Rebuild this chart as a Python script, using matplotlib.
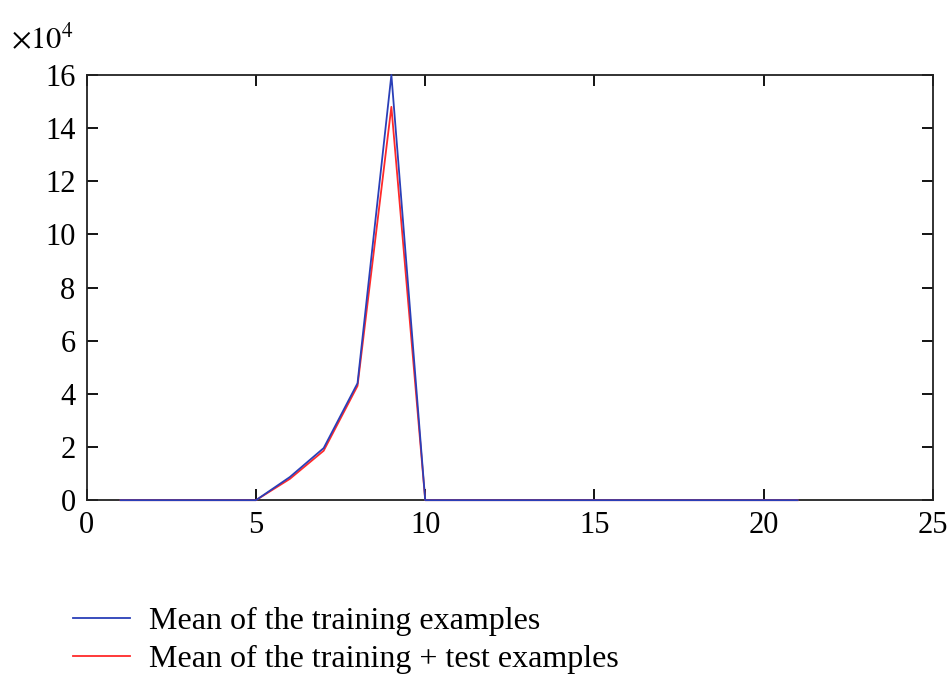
import numpy as np
import matplotlib.pyplot as plt
from matplotlib.ticker import FuncFormatter

plt.rcParams['font.family'] = ['Liberation Serif', 'DejaVu Serif']
plt.rcParams['mathtext.fontset'] = 'stix'

# class index and mean values per class
x = np.arange(1, 22)
mean_train = [0, 0, 0, 0, 0, 8700, 19600, 44000, 160000, 0,
              0, 0, 0, 0, 0, 0, 0, 0, 0, 0, 0]
mean_train_test = [0, 0, 0, 0, 0, 8000, 18600, 43000, 148000, 0,
                   0, 0, 0, 0, 0, 0, 0, 0, 0, 0, 0]
scale = 1e4

fig = plt.figure(figsize=(9.53, 6.75), dpi=100)
ax = fig.add_axes([0.091, 0.259, 0.888, 0.63])

ax.plot(x, mean_train_test, color='#ff2a2a', lw=1.3, zorder=3, clip_on=False,
        label='Mean of the training + test examples')
ax.plot(x, mean_train, color='#2a3fb8', lw=1.3, zorder=3, clip_on=False,
        label='Mean of the training examples')

ax.set_xlim(0, 25)
ax.set_ylim(0, 160000)
ax.set_xticks(range(0, 26, 5))
ax.set_yticks(range(0, 160001, 20000))
ax.yaxis.set_major_formatter(FuncFormatter(lambda v, p: f'{v / scale:.0f}'))
ax.text(-0.09, 1.045, r'$\times10^4$', transform=ax.transAxes, fontsize=22,
        ha='left', va='bottom')

ax.tick_params(direction='in', top=True, right=True, labelsize=22, length=8, width=1.3, pad=8)
for s in ax.spines.values():
    s.set_linewidth(1.3)
    s.set_color('#222222')

handles, labels = ax.get_legend_handles_labels()
fig.legend(handles[::-1], labels[::-1], loc='upper left', bbox_to_anchor=(0.063, 0.12),
           frameon=False, fontsize=23, handlelength=1.8, handletextpad=0.6,
           labelspacing=0.28, borderaxespad=0)

fig.savefig('out.png', dpi=100)
